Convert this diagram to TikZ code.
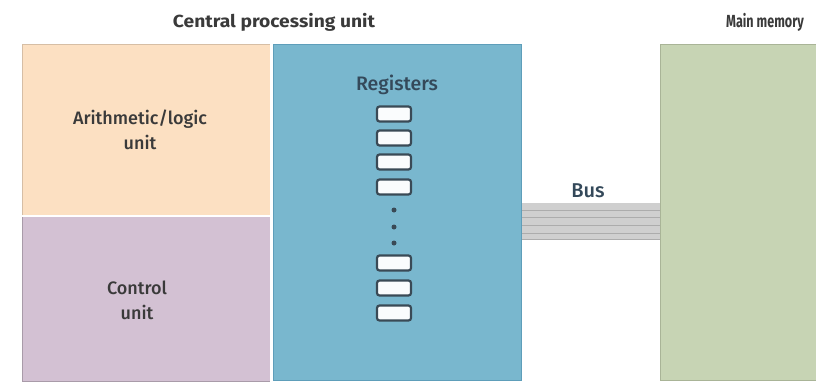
\documentclass[tikz,border=0pt]{standalone}
\usepackage{fontspec}
\setmainfont{Fira Sans}
\newfontfamily\headfont[FakeStretch=1.1]{Fira Sans Bold}
\newfontfamily\narrowhead[FakeStretch=0.72]{Fira Sans Bold}
\newfontfamily\labfont{Fira Sans Medium}
\definecolor{alufill}{HTML}{FCE0C2}
\definecolor{cufill}{HTML}{D3C1D3}
\definecolor{regfill}{HTML}{79B7CE}
\definecolor{regedge}{HTML}{5E9EBA}
\definecolor{memfill}{HTML}{C7D4B4}
\definecolor{memedge}{HTML}{A9B497}
\definecolor{celledge}{HTML}{3A4A56}
\definecolor{txt}{HTML}{3A3A3A}
\definecolor{bustxt}{HTML}{34495A}
\begin{document}
\begin{tikzpicture}[x=1pt,y=-1pt,
  title/.style={font=\headfont\fontsize{17.5}{21}\selectfont, text=txt},
  label/.style={font=\labfont\fontsize{18}{25}\selectfont, text=txt, align=center},
  cell/.style={draw=celledge, line width=2.2pt, fill=white!96!regfill, rounded corners=2.5pt,
    minimum width=34pt, minimum height=15pt, inner sep=0pt},
  regdot/.style={circle, fill=celledge, inner sep=0pt, minimum size=5pt}]
\useasboundingbox (0,0) rectangle (816,383);
\fill[white] (0,0) rectangle (816,383);

% CPU parts
\fill[alufill] (22,44) rectangle (270,215);
\draw[alufill!85!black, line width=0.6pt] (22,215) -- (22,44) -- (270,44);
\fill[cufill] (22,217) rectangle (270,381);
\draw[cufill!80!black, line width=0.6pt] (22,217) -- (22,381) -- (270,381);
\fill[regfill] (273,44) rectangle (522,381);
\draw[regedge, line width=1.2pt] (273.6,44.6) rectangle (521.4,380.4);

% Main memory
\fill[memfill] (660,44) rectangle (816,381);
\draw[memedge, line width=1pt] (816,44.5) -- (660.5,44.5) -- (660.5,380.5) -- (816,380.5);

% Bus
\fill[gray!38] (522,203) rectangle (660,240);
\foreach \yy in {210,217,225,233,239}
  \draw[gray!65, line width=0.9pt] (522,\yy) -- (660,\yy);
\coordinate (busL) at (522,221);
\coordinate (busR) at (660,221);

% Titles and labels
\node[title] (cpu) at (274,22) {Central processing unit};
\node[title, font=\narrowhead\fontsize{17.5}{21}\selectfont] (mem) at (765,22) {Main memory};
\node[label] (alu) at (140,130) {Arithmetic/logic\\unit};
\node[label] (cu) at (137,300) {Control\\unit};
\node[label, text=bustxt, font=\labfont\fontsize{19.5}{24}\selectfont] (regs) at (397,85) {Registers};
\node[label, text=bustxt, font=\labfont\fontsize{20}{24}\selectfont] (bus) at (588,191) {Bus};

% Register cells
\foreach \yy [count=\i] in {114,138,162,187}
  \node[cell] (r\i) at (394,\yy) {};
\foreach \yy [count=\i] in {210,227,243}
  \node[regdot] (d\i) at (394,\yy) {};
\foreach \yy [count=\i from 5] in {263,288,313}
  \node[cell] (r\i) at (394,\yy) {};
\end{tikzpicture}
\end{document}
